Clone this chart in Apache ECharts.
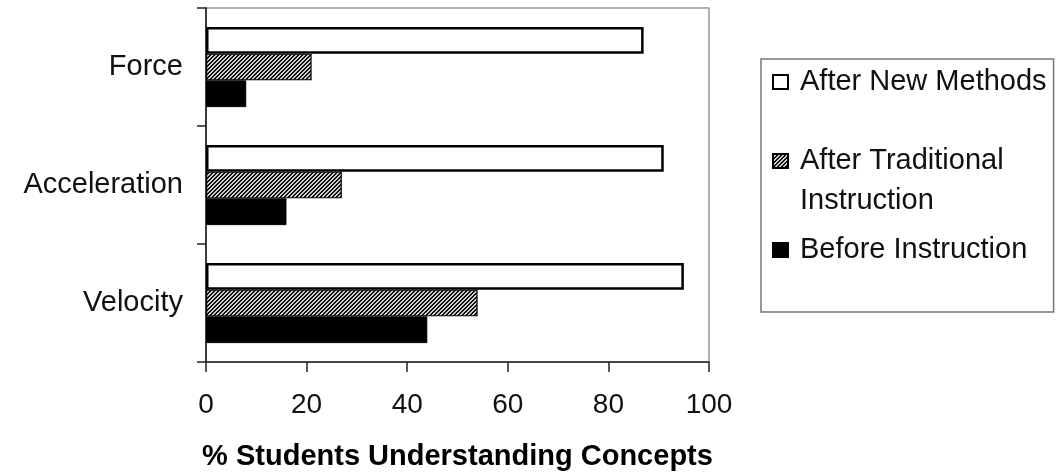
<!DOCTYPE html>
<html>
<head>
<meta charset="utf-8">
<script src="https://cdn.jsdelivr.net/npm/echarts@6/dist/echarts.min.js"></script>
<style>
html,body{margin:0;padding:0;background:#fff;}
#chart{width:1057px;height:476px;}
</style>
</head>
<body>
<div id="chart"></div>
<script>
const categories = ['Velocity', 'Acceleration', 'Force'];
const afterNewMethods = [95, 91, 87];
const afterTraditional = [54, 27, 21];
const beforeInstruction = [44, 16, 8];
const xTicks = { min: 0, max: 100, interval: 20 };
const axisTitle = '% Students Understanding Concepts';
const seriesNames = ['After New Methods', 'After Traditional\nInstruction', 'Before Instruction'];

function makeHatch() {
  const c = document.createElement('canvas');
  c.width = 4; c.height = 4;
  const ctx = c.getContext('2d');
  ctx.fillStyle = '#cfcfcf';
  ctx.fillRect(0, 0, 4, 4);
  ctx.fillStyle = '#111';
  for (let x = 0; x < 4; x++) {
    for (let y = 0; y < 4; y++) {
      const k = (x + y) % 4;
      if (k === 0 || k === 1) ctx.fillRect(x, y, 1, 1);
    }
  }
  return c;
}
const hatch = makeHatch();

const FONT = 'Liberation Sans, Arial, sans-serif';
const chart = echarts.init(document.getElementById('chart'), null, { renderer: 'canvas' });
chart.setOption({
  animation: false,
  backgroundColor: '#fff',
  grid: {
    left: 206, right: 348, top: 8, bottom: 113,
    show: true, borderColor: '#999', borderWidth: 1.5, backgroundColor: 'transparent'
  },
  xAxis: {
    type: 'value',
    min: xTicks.min, max: xTicks.max, interval: xTicks.interval,
    name: axisTitle,
    nameLocation: 'middle',
    nameGap: 80,
    nameTextStyle: { fontFamily: FONT, fontSize: 29, fontWeight: 'bold', color: '#000' },
    axisLine: { show: true, lineStyle: { color: '#222', width: 1.5 } },
    axisTick: { show: true, length: 10, lineStyle: { color: '#222', width: 1.5 } },
    axisLabel: { fontFamily: FONT, fontSize: 28, color: '#111', margin: 29 },
    splitLine: { show: false }
  },
  yAxis: {
    type: 'category',
    data: categories,
    axisLine: { show: true, lineStyle: { color: '#111', width: 1.5 } },
    axisTick: { show: true, length: 9, lineStyle: { color: '#222', width: 1.5 } },
    axisLabel: { fontFamily: FONT, fontSize: 29, color: '#111', margin: 23, lineHeight: 32, padding: [4, 0, 0, 0] },
    splitLine: { show: false }
  },
  legend: {
    orient: 'vertical',
    left: 761, top: 59,
    padding: [5, 7, 34, 11],
    itemGap: 1,
    itemWidth: 15, itemHeight: 14,
    icon: 'rect',
    borderColor: '#777', borderWidth: 1.5,
    selectedMode: false,
    textStyle: { fontFamily: FONT, fontSize: 29, color: '#111' },
    formatter: function (name) {
      return name === seriesNames[1] ? '\n' + name : name;
    },
    data: [
      { name: seriesNames[0], textStyle: { lineHeight: 36, padding: [0, 0, 0, 7] } },
      { name: seriesNames[1], textStyle: { lineHeight: 40, padding: [0, 0, 0, 7] } },
      { name: seriesNames[2], textStyle: { lineHeight: 40, padding: [8, 0, 8, 7] } }
    ]
  },
  series: [
    {
      name: seriesNames[0], type: 'bar', data: afterNewMethods,
      barGap: '0%', barCategoryGap: '32%',
      itemStyle: { color: '#fff', borderColor: '#000', borderWidth: 2.5 }
    },
    {
      name: seriesNames[1], type: 'bar', data: afterTraditional,
      itemStyle: { color: { image: hatch, repeat: 'repeat' }, borderColor: '#000', borderWidth: 1.2 }
    },
    {
      name: seriesNames[2], type: 'bar', data: beforeInstruction,
      itemStyle: { color: '#000', borderColor: '#000', borderWidth: 1 }
    }
  ]
});
</script>
</body>
</html>
